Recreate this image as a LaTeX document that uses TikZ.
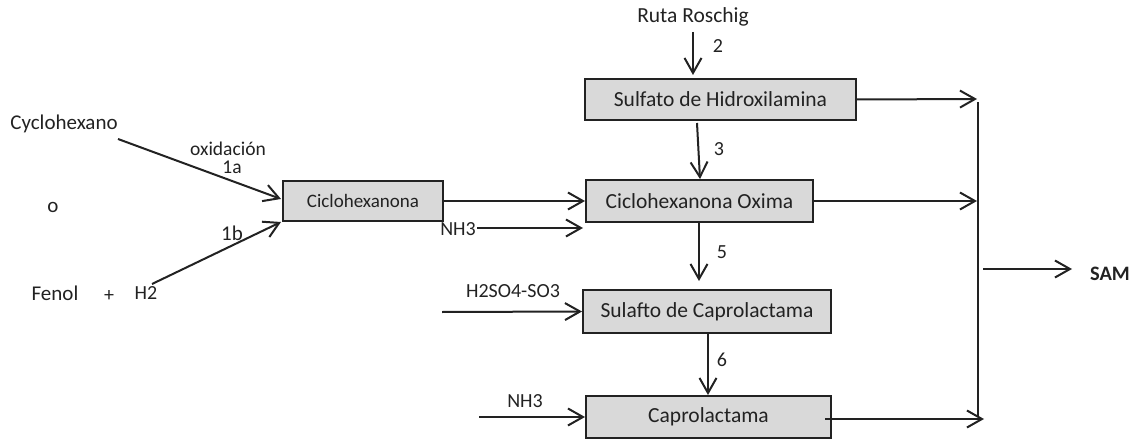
\documentclass[tikz,border=0pt]{standalone}
\usepackage{fontspec}
\setmainfont{Carlito}
\usetikzlibrary{arrows.meta,calc}
\definecolor{boxfill}{HTML}{D9D9D9}
\definecolor{ink}{HTML}{222222}
\tikzset{
  procbox/.style={draw=ink,line width=2pt,fill=boxfill,rectangle,inner sep=0pt,text=ink,font=\fontsize{21.5}{24}\selectfont},
  lbl/.style={text=ink,inner sep=0pt,font=\fontsize{20}{22}\selectfont},
  smlbl/.style={text=ink,inner sep=0pt,font=\fontsize{19.5}{22}\selectfont},
  biglbl/.style={text=ink,inner sep=0pt,font=\fontsize{21}{23}\selectfont},
  arr/.style={draw=ink,line width=2pt,-{Straight Barb[length=15pt,width=17pt,line width=2pt]}},
  ln/.style={draw=ink,line width=2pt}
}
\begin{document}
\begin{tikzpicture}[x=1pt,y=-1pt]
\useasboundingbox (0,0) rectangle (1135,441);
% boxes
\node[procbox,minimum width=160pt,minimum height=40pt,font=\fontsize{19}{21}\selectfont] (cic) at (363,201) {Ciclohexanona};
\node[procbox,minimum width=271pt,minimum height=41pt] (hid) at (720.5,99.5) {Sulfato de Hidroxilamina};
\node[procbox,minimum width=227pt,minimum height=42pt] (oxi) at (699.5,201) {Ciclohexanona Oxima};
\node[procbox,minimum width=248pt,minimum height=43pt] (sul) at (707,311.5) {Sulafto de Caprolactama};
\node[procbox,minimum width=245pt,minimum height=42pt] (cap) at (708.5,417) {Caprolactama};
% text labels
\node[biglbl] (cyc) at (64,124) {Cyclohexano};
\node[biglbl] (o) at (53,207) {o};
\node[biglbl] (fen) at (55,293) {Fenol};
\node[lbl] (plus) at (109,296) {+};
\node[lbl] (h2) at (146,293) {H2};
\node[smlbl] (oxd) at (228,149) {oxidación};
\node[smlbl] (l1a) at (232,167) {1a};
\node[biglbl] (l1b) at (232,233) {1b};
\node[text=ink,inner sep=0pt,font=\fontsize{21.5}{23}\selectfont] (rr) at (693,17) {Ruta Roschig};
\node[lbl] (n2) at (718,46) {2};
\node[lbl] (n3) at (719,149) {3};
\node[lbl] (n5) at (722,252) {5};
\node[lbl] (n6) at (722,360) {6};
\node[lbl] (nh3a) at (458,229) {NH3};
\node[lbl] (hso) at (513,291) {H2SO4-SO3};
\node[lbl] (nh3b) at (525,401) {NH3};
\node[text=ink,inner sep=0pt,font=\fontsize{20.5}{22}\selectfont\bfseries] (sam) at (1110,274) {SAM};
% free ends
\coordinate (cycS) at (118,139);
\coordinate (cicA) at (281,199);
\coordinate (h2S) at (152,284);
\coordinate (cicB) at (281,222);
\coordinate (r2S) at (693,32);
\coordinate (r2E) at (693,75);
\coordinate (s3S) at (697,123);
\coordinate (s3E) at (700,179);
\coordinate (nh3aS) at (477,228);
\coordinate (nh3aE) at (583,228);
\coordinate (s5S) at (699,223);
\coordinate (s5E) at (699,281);
\coordinate (hsoS) at (442,312);
\coordinate (s6S) at (708,333);
\coordinate (s6E) at (708,395);
\coordinate (nh3bS) at (479,417);
\coordinate (busT) at (978,102);
\coordinate (busB) at (978,417);
\coordinate (hidE) at (977,99);
\coordinate (oxiE) at (977,201);
\coordinate (capS) at (825,419);
\coordinate (capE) at (984,419);
\coordinate (samS) at (983,269);
\coordinate (samE) at (1072,269);
% connectors
\draw[arr] (cycS) -- (cicA);
\draw[arr] (h2S) -- (cicB);
\draw[arr] (cic.east) -- (oxi.west);
\draw[arr] (nh3aS) -- (nh3aE);
\draw[arr] (r2S) -- (r2E);
\draw[arr] (s3S) -- (s3E);
\draw[arr] (s5S) -- (s5E);
\draw[arr] (hsoS) -- (sul.west);
\draw[arr] (s6S) -- (s6E);
\draw[arr] (nh3bS) -- (cap.west);
\draw[arr] (hid.east) -- (hidE);
\draw[arr] (oxi.east) -- (oxiE);
\draw[arr] (capS) -- (capE);
\draw[ln] (busT) -- (busB);
\draw[arr] (samS) -- (samE);
\end{tikzpicture}
\end{document}
